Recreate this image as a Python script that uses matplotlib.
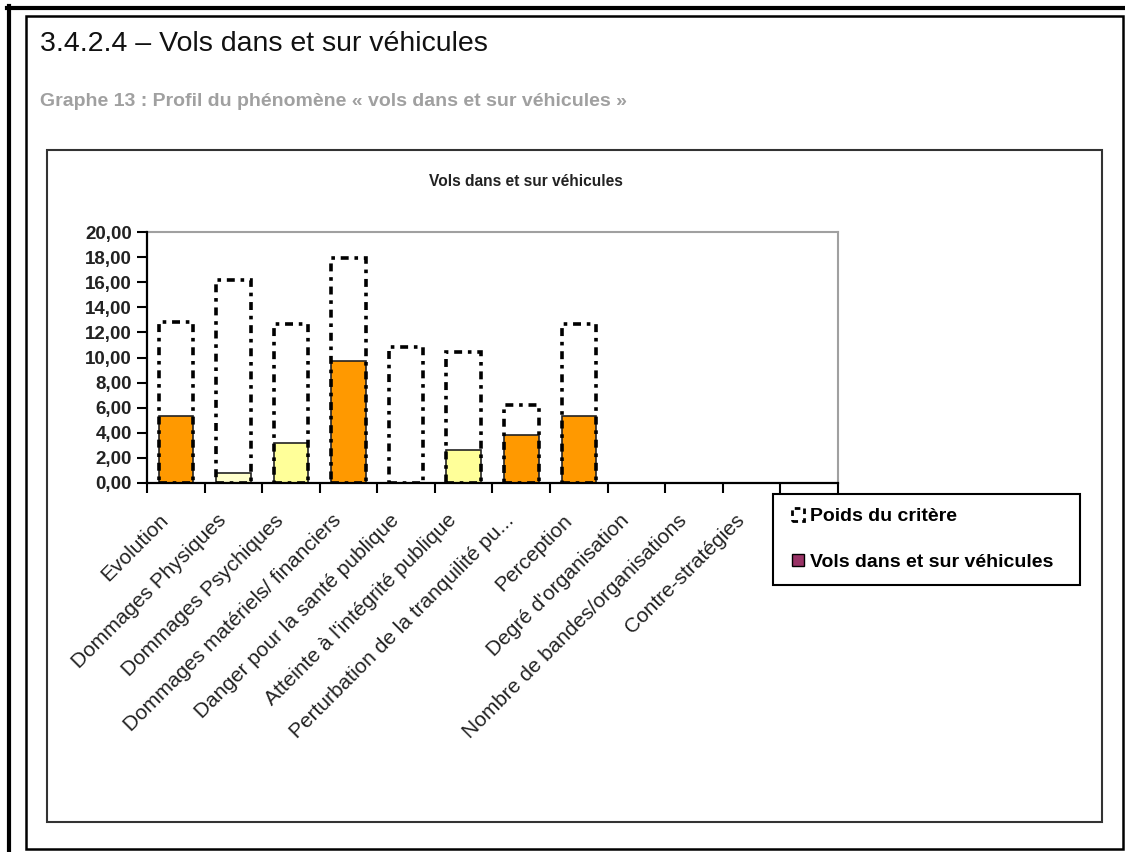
import matplotlib.pyplot as plt
import matplotlib.transforms as mtransforms
from matplotlib.patches import Patch, Rectangle
from matplotlib.lines import Line2D

# data
categories = ['Evolution', 'Dommages Physiques', 'Dommages Psychiques',
              'Dommages matériels/ financiers', 'Danger pour la santé publique',
              "Atteinte à l'intégrité publique", 'Perturbation de la tranquilité pu...',
              'Perception', "Degré d'organisation", 'Nombre de bandes/organisations',
              'Contre-stratégies', '']
poids = [12.85, 16.2, 12.7, 17.9, 10.8, 10.4, 6.2, 12.7, 0, 0, 0, 0]
vols = [5.3, 0.77, 3.2, 9.7, 0, 2.6, 3.8, 5.3, 0, 0, 0, 0]
bar_colors = ['#FF9900', '#FFFFCC', '#FFFF99', '#FF9900', '#FFFF99', '#FFFF99',
              '#FF9900', '#FF9900', '#FF9900', '#FF9900', '#FF9900', '#FF9900']
yticks = [0, 2, 4, 6, 8, 10, 12, 14, 16, 18, 20]

W, H = 1125, 852
fig = plt.figure(figsize=(W / 100, H / 100), dpi=100)
fig.patch.set_facecolor('white')

def fx(px):
    return px / W

def fy(py):
    return 1 - py / H

# page frames
fig.add_artist(Line2D([fx(7), fx(W)], [fy(7.5), fy(7.5)], color='black', lw=3))
fig.add_artist(Line2D([fx(9), fx(9)], [fy(6), fy(H)], color='black', lw=3))
fig.add_artist(Rectangle((fx(26), fy(849)), fx(1123 - 26), (849 - 16) / H,
                         fill=False, edgecolor='black', lw=1.8))
fig.add_artist(Rectangle((fx(47), fy(822)), fx(1102 - 47), (822 - 150) / H,
                         fill=False, edgecolor='#333333', lw=1.5))

# headings
fig.text(fx(40), fy(44), '3.4.2.4 – Vols dans et sur véhicules', fontsize=20.5,
         family='Liberation Sans', va='center', ha='left', color='#111111')
fig.text(fx(40), fy(102), 'Graphe 13 : Profil du phénomène « vols dans et sur véhicules »',
         fontsize=14, family='Liberation Sans', fontweight='bold', va='center',
         ha='left', color='#A0A0A0')
fig.text(fx(526), fy(181), 'Vols dans et sur véhicules', fontsize=11.2,
         family='Liberation Sans', fontweight='bold', va='center', ha='center',
         color='#222222')

ax = fig.add_axes([fx(147), fy(483), fx(838 - 147), (483 - 232) / H])
x = list(range(len(categories)))

ax.bar(x, vols, width=0.6, color=bar_colors, edgecolor='#222222', lw=1.2, zorder=2)
ax.bar(x, poids, width=0.6, fill=False,
       edgecolor=['black' if p > 0 else 'none' for p in poids], lw=2.6,
       linestyle=(0, (2.2, 1.6, 1, 1.6)), zorder=3)

ax.set_xlim(-0.5, len(categories) - 0.5)
ax.set_ylim(0, 20)
ax.set_yticks(yticks)
ax.set_yticklabels([f'{v:.2f}'.replace('.', ',') for v in yticks],
                   fontsize=13.5, fontweight='bold', family='Liberation Sans', color='#222222')

ax.set_xticks(x)
ax.set_xticklabels(categories, rotation=45, ha='right', rotation_mode='anchor',
                   fontsize=15, family='Liberation Sans', color='#222222')
ax.tick_params(axis='x', which='major', length=0, pad=20)
shift = mtransforms.ScaledTranslation(-12 / 72, 0, fig.dpi_scale_trans)
for lab in ax.get_xticklabels():
    lab.set_transform(lab.get_transform() + shift)
ax.set_xticks([i - 0.5 for i in range(len(categories) + 1)], minor=True)
ax.tick_params(axis='x', which='minor', length=7, width=1.5, direction='out', color='black')
ax.tick_params(axis='y', length=7, width=1.5, direction='out', color='black', pad=4)

for side in ['top', 'right']:
    ax.spines[side].set_color('#A0A0A0')
    ax.spines[side].set_linewidth(1.5)
for side in ['left', 'bottom']:
    ax.spines[side].set_color('black')
    ax.spines[side].set_linewidth(1.6)
    ax.spines[side].set_zorder(4)

# legend box drawn separately so its padding can match the reference
fig.add_artist(Rectangle((fx(773), fy(585)), fx(1080 - 773), (585 - 494) / H,
                         fill=False, edgecolor='black', lw=1.5))
handles = [Patch(facecolor='white', edgecolor='black', lw=2, linestyle=(0, (2, 1.5))),
           Patch(facecolor='#993366', edgecolor='black', lw=1)]
leg = fig.legend(handles, ['Poids du critère', 'Vols dans et sur véhicules'],
                 loc='center left', bbox_to_anchor=(fx(792), fy(539.5)),
                 prop={'family': 'Liberation Sans', 'weight': 'bold', 'size': 14},
                 frameon=False, borderpad=0,
                 handlelength=0.6, handleheight=0.6, handletextpad=0.35,
                 labelspacing=1.45, borderaxespad=0)

fig.savefig('out.png', dpi=100, facecolor='white')
plt.close()
